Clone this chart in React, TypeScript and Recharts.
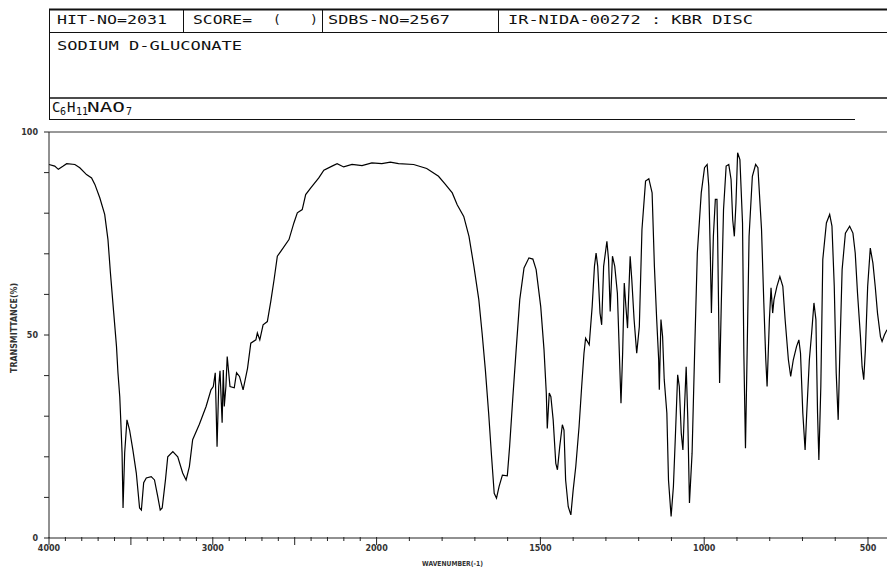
import React from "react";
import { LineChart, Line, XAxis, YAxis, ReferenceLine } from "recharts";

// IR spectrum of sodium D-gluconate (KBr disc)
const wavenumbers = [
  4000, 3965, 3943, 3913, 3892, 3842, 3812, 3771, 3740, 3720, 3690, 3660, 3640, 3625, 3605, 3588,
  3579, 3568, 3562, 3554, 3548, 3538, 3524, 3508, 3488, 3467, 3447, 3436, 3422, 3406, 3376, 3356,
  3336, 3321, 3309, 3289, 3275, 3244, 3214, 3184, 3163, 3143, 3123, 3082, 3041, 3011, 2997, 2985,
  2974, 2964, 2956, 2943, 2936, 2930, 2920, 2912, 2895, 2869, 2855, 2837, 2815, 2788, 2768, 2737,
  2728, 2713, 2693, 2667, 2646, 2626, 2606, 2585, 2535, 2505, 2484, 2454, 2433, 2403, 2353, 2322,
  2272, 2241, 2201, 2150, 2089, 2029, 1984, 1958, 1933, 1887, 1847, 1811, 1790, 1769, 1754, 1734,
  1718, 1703, 1688, 1678, 1668, 1658, 1649, 1641, 1634, 1626, 1616, 1601, 1594, 1584, 1574, 1563,
  1550, 1535, 1523, 1513, 1499, 1489, 1482, 1479, 1473, 1468, 1461, 1453, 1448, 1441, 1433, 1428,
  1423, 1415, 1407, 1400, 1392, 1382, 1374, 1367, 1362, 1351, 1342, 1335, 1330, 1325, 1318, 1313,
  1307, 1297, 1292, 1287, 1280, 1273, 1265, 1259, 1254, 1249, 1244, 1239, 1234, 1231, 1226, 1221,
  1214, 1206, 1198, 1190, 1179, 1169, 1159, 1152, 1145, 1139, 1137, 1132, 1127, 1122, 1114, 1109,
  1101, 1094, 1088, 1081, 1076, 1070, 1065, 1060, 1055, 1050, 1045, 1037, 1029, 1021, 1009, 999,
  991, 986, 981, 978, 972, 966, 961, 959, 953, 948, 941, 933, 925, 918, 913, 908,
  903, 898, 891, 883, 879, 874, 869, 863, 853, 843, 836, 825, 818, 812, 808, 801,
  796, 791, 787, 778, 769, 760, 753, 743, 736, 728, 718, 711, 706, 699, 692, 687,
  679, 672, 665, 659, 654, 650, 644, 638, 627, 617, 610, 603, 597, 591, 586, 579,
  569, 556, 546, 539, 532, 523, 518, 513, 508, 501, 493, 485, 478, 471, 462, 457,
  450, 442,
];

const transmittance = [
  92.0, 91.6, 90.8, 91.6, 92.2, 92.0, 91.2, 89.5, 88.7, 87.1, 83.8, 79.7, 73.5, 65.3, 55.5, 47.2,
  40.7, 34.8, 29.1, 21.0, 7.4, 21.0, 29.1, 26.6, 21.7, 16.0, 7.4, 6.9, 13.6, 14.8, 15.1, 14.3,
  10.2, 6.9, 7.4, 14.3, 20.0, 21.3, 20.0, 16.0, 14.3, 17.6, 24.2, 28.0, 32.4, 36.5, 37.3, 40.7,
  22.5, 37.3, 41.2, 28.4, 41.4, 32.4, 37.3, 44.7, 37.3, 37.0, 40.7, 39.8, 36.5, 41.8, 48.0, 48.8,
  50.5, 48.8, 52.5, 53.3, 58.3, 63.6, 69.4, 70.6, 73.5, 77.6, 80.1, 80.9, 84.6, 86.2, 88.7, 90.6,
  91.6, 92.2, 91.4, 92.0, 91.7, 92.4, 92.2, 92.6, 92.2, 92.0, 91.0, 89.1, 87.1, 85.0, 82.1, 79.2,
  74.3, 66.9, 58.7, 50.5, 41.4, 30.8, 20.0, 11.0, 9.8, 12.7, 15.5, 15.3, 22.5, 34.8, 46.4, 58.7,
  66.5, 69.0, 68.7, 66.1, 57.0, 46.4, 35.7, 27.0, 35.7, 34.8, 29.1, 18.4, 16.8, 22.5, 27.9, 26.6,
  14.3, 7.7, 5.7, 11.8, 17.6, 27.4, 37.3, 45.5, 49.2, 47.6, 57.0, 66.9, 70.2, 66.9, 55.4, 52.5,
  66.9, 73.1, 68.6, 55.8, 69.4, 66.9, 60.3, 45.5, 33.2, 45.5, 62.8, 57.0, 51.7, 58.7, 69.4, 63.6,
  53.8, 45.5, 52.1, 76.0, 87.9, 88.5, 85.0, 66.9, 53.8, 43.9, 36.5, 53.8, 49.6, 39.0, 30.8, 14.3,
  5.3, 12.7, 25.0, 40.2, 37.3, 25.8, 21.7, 32.4, 42.2, 29.1, 8.6, 20.9, 46.4, 70.2, 85.0, 91.2,
  92.0, 86.6, 68.6, 55.4, 74.3, 83.4, 83.4, 74.3, 38.2, 57.0, 80.9, 91.6, 92.0, 88.3, 78.4, 74.3,
  82.5, 94.9, 93.2, 77.6, 45.5, 22.1, 45.5, 74.3, 89.1, 92.0, 91.2, 76.0, 57.9, 43.9, 37.3, 53.8,
  61.6, 55.4, 58.7, 62.0, 64.4, 62.0, 53.8, 43.9, 39.8, 43.9, 47.2, 48.8, 45.5, 30.8, 21.7, 30.8,
  43.9, 50.5, 57.9, 53.8, 30.8, 19.2, 37.3, 68.6, 77.6, 79.7, 76.8, 62.0, 40.6, 29.1, 45.5, 66.1,
  75.1, 76.8, 75.1, 70.2, 60.3, 49.6, 42.2, 39.0, 46.4, 62.0, 71.4, 67.7, 62.0, 55.4, 49.6, 48.4,
  50.0, 51.3,
];

const xLabels = [4000, 3000, 2000, 1500, 1000, 500];
const yLabels = [0, 50, 100];

const hitNo = "HIT-NO=2031";
const scoreLabel = "SCORE=";
const sdbsNo = "SDBS-NO=2567";
const sampleInfo = "IR-NIDA-00272 : KBR DISC";
const compoundName = "SODIUM D-GLUCONATE";

// chart scale halves at 2000 cm-1, so map wavenumber to a linear unit
const toU = (wn: number) => (wn >= 2000 ? (4000 - wn) / 2 : 1000 + (2000 - wn));
const fromU = (u: number) => (u <= 1000 ? 4000 - 2 * u : 3000 - u);

const xTicks: number[] = [];
for (let wn = 4000; wn >= 500; wn -= 100) xTicks.push(toU(wn));
const yTicks = [0, 10, 20, 30, 40, 50, 60, 70, 80, 90, 100];

const data = wavenumbers.map((wn, i) => ({ u: toU(wn), t: transmittance[i] }));

const PLOT_LEFT = 49;
const PLOT_BOTTOM = 538;
const mono = "'DejaVu Sans Mono', monospace";
const small = "'DejaVu Sans', sans-serif";

const XTick = (props: any) => {
  const { x, payload } = props;
  const wn = Math.round(fromU(payload.value));
  const major = wn % 500 === 0;
  return (
    <g>
      <line x1={x} x2={x} y1={PLOT_BOTTOM - 1} y2={PLOT_BOTTOM + (major ? 7 : 3)} stroke="#222" />
      {xLabels.includes(wn) && (
        <text x={x} y={551} textAnchor="middle" fontSize={8} fontWeight="bold" fill="#333" fontFamily={small}>
          {wn}
        </text>
      )}
    </g>
  );
};

const YTick = (props: any) => {
  const { y, payload } = props;
  return (
    <g>
      <line x1={PLOT_LEFT - 5} x2={PLOT_LEFT} y1={y} y2={y} stroke="#222" />
      {yLabels.includes(payload.value) && (
        <text x={38} y={y + 3} textAnchor="end" fontSize={8} fontWeight="bold" fill="#333" fontFamily={small}>
          {payload.value}
        </text>
      )}
    </g>
  );
};

const Header = () => (
  <svg width={887} height={132} style={{ position: "absolute", left: 0, top: 0 }}>
    <g stroke="#111" fill="none">
      <line x1={49} x2={887} y1={9.5} y2={9.5} strokeWidth={2} />
      <line x1={49} x2={887} y1={32.5} y2={32.5} />
      <line x1={49} x2={887} y1={98} y2={98} strokeWidth={1.5} />
      <line x1={49} x2={855} y1={119.5} y2={119.5} />
      <line x1={49.5} x2={49.5} y1={9} y2={120} />
      <line x1={183.5} x2={183.5} y1={9} y2={32.5} />
      <line x1={322.5} x2={322.5} y1={9} y2={32.5} />
      <line x1={498.5} x2={498.5} y1={9} y2={32.5} />
    </g>
    <g fontFamily={mono} fontSize={13} fill="#111">
      <text x={57} y={23.5} textLength={110} lengthAdjust="spacingAndGlyphs">{hitNo}</text>
      <text x={193} y={23.5} textLength={59} lengthAdjust="spacingAndGlyphs">{scoreLabel}</text>
      <text x={273} y={23.5}>(</text>
      <text x={310} y={23.5}>)</text>
      <text x={328} y={23.5} textLength={122} lengthAdjust="spacingAndGlyphs">{sdbsNo}</text>
      <text x={508} y={23.5} textLength={245} lengthAdjust="spacingAndGlyphs">{sampleInfo}</text>
      <text x={57} y={50} textLength={185} lengthAdjust="spacingAndGlyphs">{compoundName}</text>
      <text y={111.5} fontSize={14}>
        <tspan x={52}>C</tspan>
        <tspan x={60} dy={3} fontSize={10}>6</tspan>
        <tspan x={67} dy={-3}>H</tspan>
        <tspan x={76} dy={3} fontSize={10}>11</tspan>
        <tspan x={126} fontSize={10}>7</tspan>
      </text>
      <text x={87} y={111.5} fontSize={14} textLength={38} lengthAdjust="spacingAndGlyphs">NAO</text>
    </g>
  </svg>
);

export default function App() {
  return (
    <div style={{ position: "absolute", left: 0, top: 0, width: 887, height: 568, background: "#fff" }}>
      <LineChart width={887} height={568} data={data} margin={{ top: 132, right: 0, bottom: 0, left: 0 }}>
        <XAxis
          dataKey="u"
          type="number"
          domain={[0, 2558]}
          ticks={xTicks}
          interval={0}
          height={30}
          tickLine={false}
          axisLine={{ stroke: "#222" }}
          tick={(p: any) => <XTick {...p} />}
        />
        <YAxis
          type="number"
          domain={[0, 100]}
          ticks={yTicks}
          interval={0}
          width={49}
          tickLine={false}
          axisLine={{ stroke: "#222" }}
          tick={(p: any) => <YTick {...p} />}
        />
        <ReferenceLine y={100} stroke="#333" />
        <Line
          type="linear"
          dataKey="t"
          stroke="#000"
          strokeWidth={1.2}
          dot={false}
          isAnimationActive={false}
        />
      </LineChart>
      <Header />
      <svg width={887} height={568} style={{ position: "absolute", left: 0, top: 0, pointerEvents: "none" }}>
        <text
          transform="translate(17,328) rotate(-90)"
          textAnchor="middle"
          fontSize={8}
          fontWeight="bold"
          fill="#333"
          fontFamily={small}
          textLength={90}
          lengthAdjust="spacingAndGlyphs"
        >
          TRANSMITTANCE(%)
        </text>
        <text x={422} y={566} fontSize={7} fontWeight="bold" fill="#333" fontFamily={small} textLength={61} lengthAdjust="spacingAndGlyphs">
          WAVENUMBER(-1)
        </text>
      </svg>
    </div>
  );
}
